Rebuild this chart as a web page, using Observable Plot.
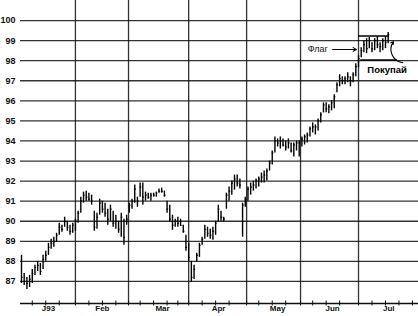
<!DOCTYPE html>
<html>
<head>
<meta charset="utf-8">
<script src="https://cdn.jsdelivr.net/npm/d3@7"></script>
<script src="https://cdn.jsdelivr.net/npm/@observablehq/plot@0.6"></script>
<style>
  html, body { margin: 0; padding: 0; background: #fff; }
  svg { display: block; }
</style>
</head>
<body>
<div id="chart"></div>
<script>
// Daily bars, trading-day index 0..136 (Jan–early Jul 1993)
const highs = [88.3,87.4,87.2,87.3,87.6,87.8,88.0,87.9,88.3,88.5,
  88.9,89.1,89.2,89.4,89.9,89.8,90.2,90.0,89.8,89.9,
  90.1,90.5,91.2,91.45,91.5,91.4,91.3,90.5,90.4,91.1,
  91.0,90.9,90.6,90.8,90.5,90.3,90.0,90.4,90.1,90.3,
  90.9,91.1,91.8,91.2,91.9,91.9,91.45,91.4,91.4,91.4,
  91.45,91.6,91.65,91.5,91.0,90.8,90.3,90.1,90.2,90.1,
  89.8,89.3,88.9,88.0,87.8,88.4,88.9,89.2,89.8,89.7,
  89.6,89.7,90.0,90.8,90.5,90.2,91.4,91.7,92.0,92.3,
  92.3,92.1,90.9,91.2,91.7,91.9,92.0,92.1,92.2,92.4,
  92.5,92.6,93.0,93.5,94.2,94.1,94.2,94.1,94.0,94.1,
  93.9,93.9,94.0,94.0,94.2,94.3,94.4,94.7,94.9,94.8,
  95.1,95.4,95.9,95.9,95.8,96.0,96.3,96.9,97.3,97.2,
  97.2,97.4,97.2,97.4,97.85,98.25,98.65,99.0,99.1,99.15,
  98.9,99.1,99.2,98.9,99.1,99.2,99.4];
const lows = [86.9,86.8,86.6,86.7,86.9,87.3,87.5,87.3,87.6,88.0,
  88.3,88.6,88.7,88.95,89.3,89.45,89.7,89.5,89.3,89.4,
  89.5,89.9,90.4,90.9,91.0,91.0,90.8,89.5,89.6,90.3,
  90.4,90.2,89.8,90.0,89.7,89.6,89.4,89.2,88.8,89.8,
  90.4,90.6,90.9,90.7,91.2,90.8,91.0,91.1,91.0,91.2,
  91.2,91.4,91.4,91.2,90.4,89.95,89.55,89.7,89.7,89.75,
  89.4,88.5,88.0,86.95,87.1,87.95,88.2,88.8,89.1,89.2,
  89.1,89.05,89.3,89.95,90.0,89.95,90.6,91.0,91.3,91.55,
  91.7,91.6,89.2,90.7,91.0,91.3,91.5,91.6,91.7,91.9,
  91.9,92.0,92.5,92.8,93.4,93.7,93.6,93.7,93.5,93.6,
  93.4,93.2,93.5,93.2,93.7,93.8,93.9,94.2,94.4,94.3,
  94.5,94.9,95.4,95.4,95.35,95.5,95.6,96.4,96.7,96.8,
  96.8,96.9,96.7,96.9,97.2,97.65,98.15,98.4,98.35,98.6,
  98.4,98.5,98.6,98.4,98.5,98.6,98.85];
const closes = [87.2,87.0,86.9,87.1,87.4,87.7,87.8,87.5,88.1,88.3,
  88.7,88.9,89.0,89.3,89.7,89.6,90.0,89.7,89.5,89.8,
  90.0,90.4,91.0,91.3,91.2,91.1,91.0,89.7,90.2,90.9,
  90.6,90.4,90.1,90.6,89.9,90.0,89.6,90.2,89.2,90.1,
  90.8,91.0,91.6,91.0,91.7,91.2,91.3,91.2,91.3,91.3,
  91.4,91.5,91.5,91.3,90.6,90.1,89.8,90.0,89.9,89.8,
  89.5,88.7,88.2,87.2,87.6,88.3,88.8,89.1,89.6,89.4,
  89.3,89.5,89.9,90.6,90.2,90.1,91.3,91.5,91.9,92.1,
  91.9,91.8,90.8,91.1,91.6,91.7,91.8,92.0,92.1,92.2,
  92.3,92.5,92.9,93.4,94.0,93.9,94.0,93.8,93.7,93.9,
  93.5,93.8,93.9,93.9,94.1,94.2,94.3,94.6,94.7,94.7,
  95.0,95.3,95.8,95.6,95.7,95.9,96.2,96.8,97.1,97.0,
  97.1,97.2,97.0,97.3,97.7,98.1,98.5,98.8,98.6,99.0,
  98.6,99.0,98.8,98.7,99.0,98.9,99.3];

// Axes (x = trading-day index)
const yTicks = [87,88,89,90,91,92,93,94,95,96,97,98,99,100];
const yDomain = [85.9, 101.0];
const xDomain = [-0.37, 147.25];
const monthBounds = [20, 39.7, 62, 83.5, 103.5, 125];
const monthNames = ["J93","Feb","Mar","Apr","May","Jun","Jul"];
const monthCenters = [10, 30, 52.3, 73.1, 95, 115.4, 136.2];
const weekTicks = [4, 9, 14, 25, 30, 35, 44, 49, 54, 58, 67, 72, 77, 88, 93, 98, 108, 113, 118, 130, 135, 140, 145];

// Annotations (data units)
const flagLabel = [{x: 113.6, y: 98.56, text: "Флаг"}];
const flagArrow = [{x1: 115.4, y1: 98.56, x2: 124.2, y2: 98.56}];
const flagLines = [{x1: 125, x2: 136.5, y: 99.23}, {x1: 125.8, x2: 139.5, y: 98.03}];
const buyLabel = [{x: 135.6, y: 97.55, text: "Покупай"}];
const buyArrow = [{x1: 141.4, y1: 97.9, x2: 138, y2: 98.95}];

const idx = highs.map((d, i) => i);

const chart = Plot.plot({
  width: 418,
  height: 316,
  marginLeft: 20,
  marginRight: 0,
  marginTop: 0,
  marginBottom: 13,
  x: {domain: xDomain, axis: null},
  y: {domain: yDomain, axis: null},
  style: {fontFamily: "'Liberation Sans', Arial, sans-serif", background: "#fff", color: "#111"},
  marks: [
    Plot.gridY(yTicks, {stroke: "#111", strokeOpacity: 0.85, strokeWidth: 1.3}),
    Plot.gridX(monthBounds, {stroke: "#111", strokeOpacity: 0.85, strokeWidth: 1.3}),
    Plot.ruleY([yDomain[0]], {stroke: "#111", strokeWidth: 1.3}),
    Plot.axisX({ticks: weekTicks.concat(monthBounds), tickSize: 5, dy: -2.5, tickFormat: () => "", stroke: "#111"}),
    Plot.axisY({ticks: yTicks, tickSize: 0, tickPadding: 5, fontSize: 9, fontWeight: "bold", fill: "#111"}),
    Plot.text(monthNames, {x: monthCenters, text: d => d, frameAnchor: "bottom", dy: 7, fontSize: 8, fontWeight: "bold", fill: "#111"}),
    // bars
    Plot.ruleX(highs, {x: idx, y1: lows, y2: highs, stroke: "#000", strokeWidth: 1.4}),
    Plot.ruleY(closes, {y: closes, x1: idx, x2: idx.map(i => i + 0.6), stroke: "#000", strokeWidth: 1.2}),
    // annotations
    Plot.ruleY(flagLines, {y: "y", x1: "x1", x2: "x2", stroke: "#000", strokeWidth: 1.5}),
    Plot.text(flagLabel, {x: "x", y: "y", text: "text", textAnchor: "end", fontSize: 9, fill: "#111"}),
    Plot.arrow(flagArrow, {x1: "x1", y1: "y1", x2: "x2", y2: "y2", stroke: "#000", strokeWidth: 1.1, headLength: 5}),
    Plot.text(buyLabel, {x: "x", y: "y", text: "text", fontSize: 9.5, fontWeight: "bold", fill: "#000"}),
    Plot.arrow(buyArrow, {x1: "x1", y1: "y1", x2: "x2", y2: "y2", bend: 60, stroke: "#000", strokeWidth: 1.1, headLength: 4})
  ]
});
document.getElementById("chart").append(chart);
</script>
</body>
</html>
